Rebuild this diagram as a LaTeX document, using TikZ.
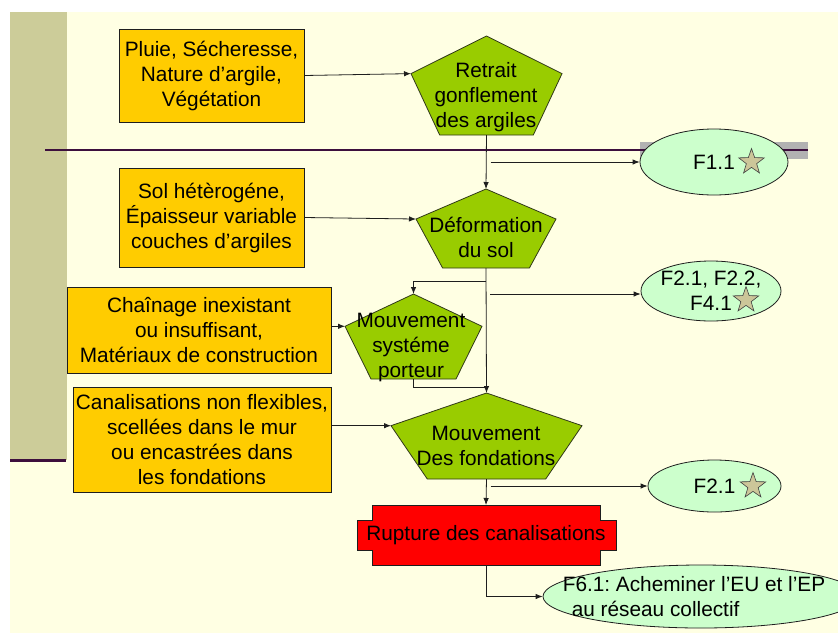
\documentclass[tikz,border=0pt]{standalone}
\usepackage{fontspec}
\setmainfont{Liberation Sans}
\usetikzlibrary{arrows.meta,calc,shapes.geometric,backgrounds}
\definecolor{ink}{HTML}{1E1E1E}
\definecolor{causefill}{HTML}{FFCC00}
\definecolor{pentfill}{HTML}{99CC00}
\definecolor{rupfill}{HTML}{FF0000}
\definecolor{funcfill}{HTML}{CCFFCC}
\definecolor{slide}{HTML}{FFFFE3}
\definecolor{band}{HTML}{CCCC99}
\definecolor{rule}{HTML}{3D0F3D}
\definecolor{bargray}{HTML}{B2B2B2}
\definecolor{starfill}{HTML}{CCC699}
\newcommand{\chartfont}{\fontsize{20.8pt}{25pt}\selectfont\frenchspacing}

\begin{document}
\begin{tikzpicture}[x=1pt,y=1pt]
    \tikzset{
      cause/.style={draw=ink,line width=0.8pt,fill=causefill,inner sep=0pt,align=center,font=\chartfont},
      shapetext/.style={inner sep=0pt,outer sep=0pt,align=center,font=\chartfont},
      pentline/.style={draw=ink!85!pentfill,line width=0.8pt,fill=pentfill},
      ruptline/.style={draw=ink,line width=0.8pt,fill=rupfill},
      func/.style={ellipse,draw=ink,line width=0.8pt,fill=funcfill,inner sep=0pt,align=center,font=\chartfont},
      starmark/.style={star,star points=5,star point ratio=2.5,draw=ink!85,line width=0.6pt,fill=starfill,minimum size=27pt,inner sep=0pt},
      arrow/.style={-{Latex[length=7pt,width=5.5pt]},draw=ink,line width=0.8pt}
    }
    \useasboundingbox (0,0) rectangle (838,-633);
    % slide backdrop
    \begin{scope}[on background layer]
      \fill[white] (0,0) rectangle (838,-633);
      \fill[slide] (10,-12) rectangle (838,-633);
      \fill[band] (10,-12) rectangle (67,-460);
      \fill[bargray] (640,-142) rectangle (808,-159);
      \draw[rule,line width=2pt] (45,-150) -- (808,-150);
      \draw[rule,line width=3pt] (10,-460) -- (66,-460);
    \end{scope}
    % causes
    \node[cause,minimum width=185pt,minimum height=93pt] (cause1) at (211.5,-75.5) {Pluie, Sécheresse,\\Nature d’argile,\\Végétation};
    \node[cause,minimum width=185pt,minimum height=99pt] (cause2) at (211.5,-217.5) {Sol hétèrogéne,\\Épaisseur variable\\couches d’argiles};
    \node[cause,minimum width=264pt,minimum height=86pt] (cause3) at (199,-330) {Chaînage inexistant\\ou insuffisant,\\Matériaux de construction};
    \node[cause,minimum width=258pt,minimum height=105pt] (cause4) at (202,-439.5) {Canalisations non flexibles,\\scellées dans le mur\\ou encastrées dans\\les fondations};
    % effects
    \node[shapetext] (ret) at (486,-97) {Retrait\\gonflement\\des argiles};
    \node[shapetext] (def) at (486,-237) {Déformation\\du sol};
    \node[shapetext] (msp) at (411,-347) {Mouvement\\systéme\\porteur};
    \node[shapetext] (mdf) at (486,-446) {Mouvement\\Des fondations};
    \node[shapetext,minimum width=228pt,minimum height=60pt,inner xsep=-10pt] (rup) at (486,-535) {Rupture des canalisations};
    % functions
    \node[func,minimum width=148pt,minimum height=66pt] (f11) at (714,-162) {F1.1};
    \node[func,minimum width=140pt,minimum height=60pt,inner xsep=-30pt,inner ysep=-12pt] (f2x) at (711,-291) {F2.1, F2.2,\\F4.1};
    \node[func,minimum width=133pt,minimum height=52pt] (f21) at (714.5,-486) {F2.1};
    \node[func,minimum width=316pt,minimum height=63pt,inner xsep=-120pt,inner ysep=-12pt,align=left] (f61) at (701,-596.5) {F6.1: Acheminer l’EU et l’EP\hspace*{14pt}\\\hspace*{9pt}au réseau collectif};
    \node[starmark] (st1) at (751.5,-162) {};
    \node[starmark] (st2) at (746,-300) {};
    \node[starmark] (st3) at (753,-486) {};
    % outlines behind the texts
    \begin{scope}[on background layer]
      \foreach \n/\xa/\ya/\xb/\yb in {ret/411/36/562/135, def/416/189/556/268, msp/345/294/482/379, mdf/391/393/582/479} {
        \draw[pentline] ({(\xa+\xb)/2},-\ya) coordinate (\n-top)
          -- (\xb,{-\ya-0.38*(\yb-\ya)})
          -- ({\xb-0.19*(\xb-\xa)},-\yb)
          -- ({\xa+0.19*(\xb-\xa)},-\yb)
          -- (\xa,{-\ya-0.38*(\yb-\ya)}) coordinate (\n-w)
          -- cycle;
        \coordinate (\n-bot) at ({(\xa+\xb)/2},-\yb);
      }
      \draw[ruptline] (rup.north west) -- (rup.north east) -- ++(0,-15) -- ++(16,0) -- ++(0,-30) -- ++(-16,0)
        -- (rup.south east) -- (rup.south west) -- ++(0,15) -- ++(-15,0) -- ++(0,30) -- ++(15,0) -- cycle;
    \end{scope}
    % connectors
    \draw[arrow] (cause1.east) -- (ret-w);
    \draw[arrow] (ret-bot) -- (def-top);
    \draw[arrow] ($(ret-bot |- f11.west)+(4,0)$) -- (f11.west);
    \draw[arrow] (cause2.east) -- (def-w);
    \draw[arrow] (def-bot) -- (mdf-top);
    \draw[arrow] ($(def-bot)+(0,-13)$) -| (msp-top);
    \draw[arrow] ($(def-bot |- f2x.west)+(4,-3)$) -- ($(f2x.west)+(0,-3)$);
    \draw[arrow] (cause3.east |- msp-w) -- (msp-w);
    \draw[ink,line width=0.8pt] (msp-bot) |- ($(mdf-top)+(0,6)$);
    \draw[arrow] (cause4.east |- mdf-w) -- (mdf-w);
    \draw[arrow] (mdf-bot) -- (rup.north);
    \draw[arrow] ($(mdf-bot |- f21.west)+(4,0)$) -- (f21.west);
    \draw[arrow] (rup.south) |- (f61.west);
  \end{tikzpicture}
\end{document}
